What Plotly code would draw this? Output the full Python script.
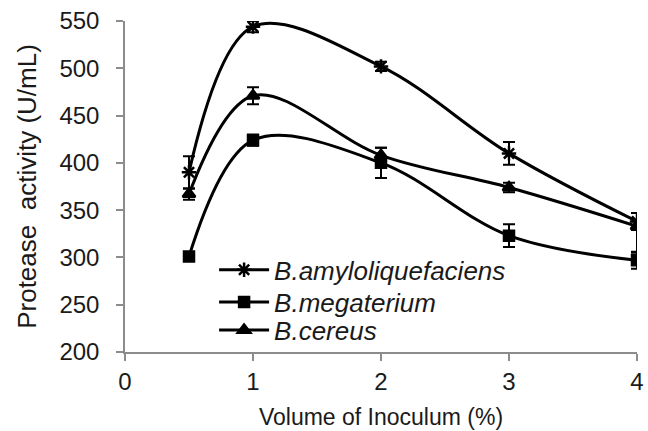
import plotly.graph_objects as go

x_vals = [0.5, 1, 2, 3, 4]
amylo = [390, 544, 502, 410, 338]
amylo_err = [17, 6, 5, 12, 9]
mega = [301, 424, 400, 323, 297]
mega_err = [3, 6, 16, 12, 9]
cereus = [367, 471, 408, 374, 333]
cereus_err_plus = [6, 9, 8, 5, 5]
cereus_err_minus = [6, 9, 8, 5, 28]
names = ["B.amyloliquefaciens", "B.megaterium", "B.cereus"]
x_ticks = [0, 1, 2, 3, 4]
y_ticks = [200, 250, 300, 350, 400, 450, 500, 550]

font_family = "Liberation Sans, Arial, sans-serif"
fig = go.Figure()

def add(y, ep, em, name, symbol, size, legend):
    fig.add_trace(go.Scatter(
        x=x_vals, y=y, mode="lines+markers", name=name, legend=legend,
        line=dict(color="black", width=3, shape="spline", smoothing=1.0),
        marker=dict(symbol=symbol, size=size, color="black",
                    line=dict(color="black", width=2.5)),
        error_y=dict(type="data", array=ep, arrayminus=em, symmetric=False,
                     color="black", thickness=2, width=6),
    ))

add(amylo, amylo_err, amylo_err, names[0], "asterisk-open", 12, "legend")
add(mega, mega_err, mega_err, names[1], "square", 10, "legend2")
add(cereus, cereus_err_plus, cereus_err_minus, names[2], "triangle-up", 11, "legend3")

leg_common = dict(xanchor="left", yanchor="middle",
                  font=dict(size=26, color="#1a1a1a", style="italic"),
                  bgcolor="rgba(0,0,0,0)", itemwidth=50)

axis_common = dict(showgrid=False, zeroline=False, automargin=False,
                   showline=True, linecolor="#8c8c8c", linewidth=1.5,
                   ticks="outside", ticklen=7, tickcolor="#8c8c8c", tickwidth=1.5,
                   ticklabeloverflow="allow", tickfont=dict(size=24))

fig.update_layout(
    width=648, height=431,
    margin=dict(l=125, r=11, t=21, b=79),
    paper_bgcolor="white", plot_bgcolor="white",
    font=dict(family=font_family, size=24, color="#1a1a1a"),
    showlegend=True,
    legend=dict(x=0.174, y=0.248, **leg_common),
    legend2=dict(x=0.174, y=0.151, **leg_common),
    legend3=dict(x=0.174, y=0.066, **leg_common),
    xaxis=dict(range=[0, 4], tickvals=x_ticks,
               title=dict(text="Volume of Inoculum (%)", font=dict(size=23)),
               **axis_common),
    yaxis=dict(range=[200, 550], tickvals=y_ticks, ticklabelstandoff=12,
               title=dict(text="Protease&nbsp; activity (U/mL)", font=dict(size=26)),
               **axis_common),
)

fig.write_html("out.html", config={"displayModeBar": False},
               post_script="document.body.style.margin='0';")
